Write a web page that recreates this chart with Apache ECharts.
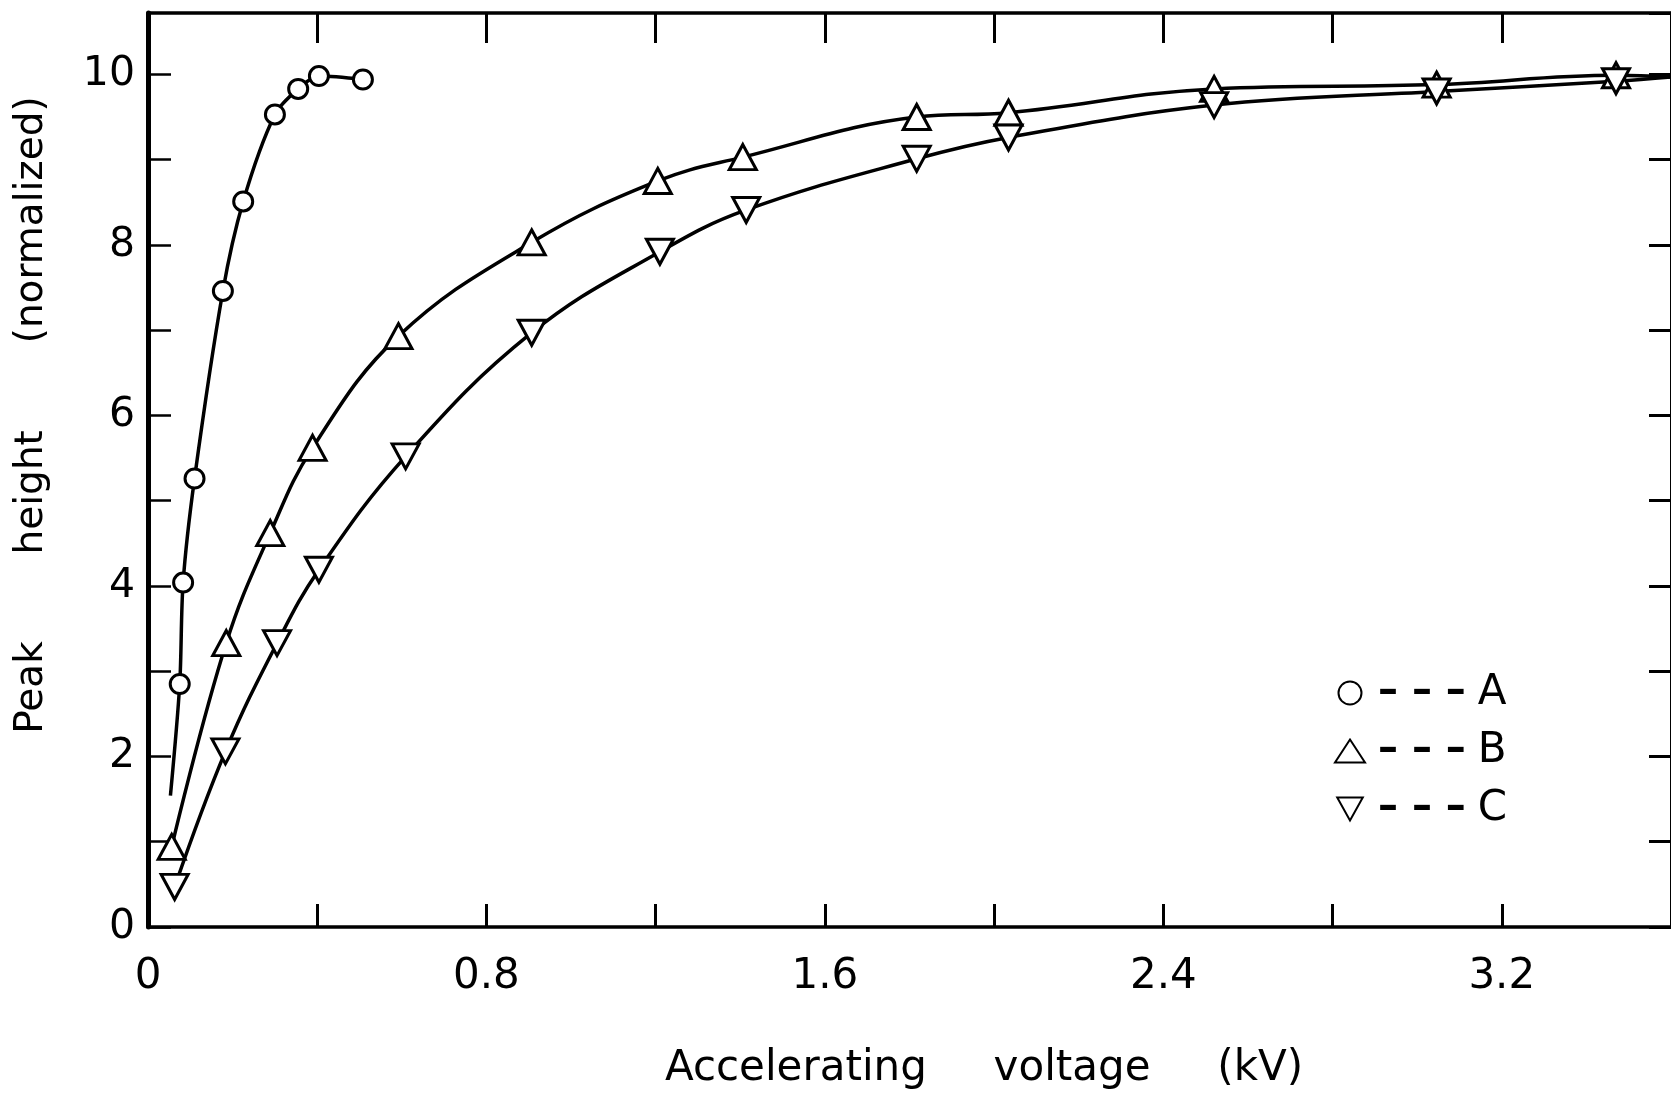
<!DOCTYPE html>
<html>
<head>
<meta charset="utf-8">
<script src="https://cdn.jsdelivr.net/npm/echarts@6/dist/echarts.min.js"></script>
<style>
  html, body { margin: 0; padding: 0; background: #fff; }
  #chart { width: 1671px; height: 1096px; }
</style>
</head>
<body>
<div id="chart"></div>
<script>
// ---- data ----
const seriesNames = ['A', 'B', 'C'];

// Series A (circles); the fitted curve starts below the first marker
const curveStartA = [0.053, 1.54];
const xA = [0.075, 0.083, 0.110, 0.177, 0.225, 0.300, 0.355, 0.404, 0.508];
const yA = [2.85, 4.04, 5.26, 7.46, 8.51, 9.53, 9.83, 9.98, 9.94];

// Series B (up triangles)
const xB = [0.056, 0.185, 0.289, 0.389, 0.592, 0.907, 1.205, 1.406, 1.817, 2.034, 2.52, 3.046, 3.47];
const yB = [0.94, 3.33, 4.62, 5.62, 6.93, 8.03, 8.75, 9.03, 9.50, 9.55, 9.83, 9.88, 9.99];

// Series C (down triangles)
const xC = [0.063, 0.183, 0.305, 0.404, 0.609, 0.907, 1.21, 1.414, 1.817, 2.034, 2.52, 3.046, 3.47];
const yC = [0.47, 2.06, 3.33, 4.19, 5.52, 6.97, 7.92, 8.41, 9.01, 9.26, 9.64, 9.80, 9.92];

// fitted curves B and C run on to the right edge of the frame
const curveEndBC = [3.6, 9.97];

// axes
const xMin = 0, xMax = 3.6, xStep = 0.4;
const yMin = 0, yMax = 10.72, yStep = 1;
const xLabelValues = [0, 0.8, 1.6, 2.4, 3.2];
const yLabelValues = [0, 2, 4, 6, 8, 10];

const xTitle = 'Accelerating     voltage     (kV)';
const yTitle = 'Peak       height       (normalized)';

// ---- chart ----
const FONT = "'DejaVu Sans', 'Liberation Sans', sans-serif";
const downTri = 'path://M0,0 L20,0 L10,18 Z';

function pts(xs, ys) { return xs.map((x, i) => [x, ys[i]]); }

const dataA = [{ value: curveStartA, symbol: 'none' }].concat(pts(xA, yA));
const dataB = pts(xB, yB).concat([{ value: curveEndBC, symbol: 'none' }]);
const dataC = pts(xC, yC).concat([{ value: curveEndBC, symbol: 'none' }]);

function near(v, list) { return list.some(t => Math.abs(v - t) < 1e-6); }

const markerStyle = { color: '#ffffff', borderColor: '#000000', borderWidth: 3 };
const lineStyle = { color: '#000000', width: 3.5 };

const chart = echarts.init(document.getElementById('chart'), null, { renderer: 'canvas' });

const option = {
  backgroundColor: '#ffffff',
  animation: false,
  grid: { left: 148, right: -10, top: 13, bottom: 169, containLabel: false },
  xAxis: [
    {
      type: 'value', position: 'bottom', min: xMin, max: xMax, interval: xStep,
      axisLine: { show: true, lineStyle: { color: '#000', width: 3.5 } },
      axisTick: { show: true, inside: true, length: 23, lineStyle: { color: '#000', width: 3 } },
      splitLine: { show: false },
      axisLabel: {
        show: true, margin: 29, color: '#000', fontFamily: FONT, fontSize: 42,
        showMaxLabel: false,
        formatter: v => near(v, xLabelValues) ? (v === 0 ? '0' : v.toFixed(1)) : ''
      }
    },
    {
      type: 'value', position: 'top', min: xMin, max: xMax, interval: xStep,
      axisLine: { show: true, onZero: false, lineStyle: { color: '#000', width: 3.5 } },
      axisTick: { show: true, inside: true, length: 30, lineStyle: { color: '#000', width: 3 } },
      splitLine: { show: false },
      axisLabel: { show: false }
    }
  ],
  yAxis: [
    {
      type: 'value', position: 'left', min: yMin, max: yMax, interval: yStep,
      axisLine: { show: true, onZero: false, lineStyle: { color: '#000', width: 5 } },
      axisTick: { show: true, inside: true, length: 23, lineStyle: { color: '#000', width: 2.5 } },
      splitLine: { show: false },
      axisLabel: {
        show: true, margin: 13, color: '#000', fontFamily: FONT, fontSize: 41,
        showMaxLabel: false,
        formatter: v => near(v, yLabelValues) ? String(Math.round(v)) : ''
      }
    },
    {
      type: 'value', position: 'right', min: yMin, max: yMax, interval: yStep,
      axisLine: { show: true, onZero: false, lineStyle: { color: '#000', width: 3 } },
      axisTick: { show: true, inside: true, length: 22, lineStyle: { color: '#000', width: 3 } },
      splitLine: { show: false },
      axisLabel: { show: false }
    }
  ],
  legend: {
    orient: 'vertical', left: 1334, top: 664, padding: 0, itemGap: 0,
    itemWidth: 30, itemHeight: 23,
    data: [
      { name: seriesNames[0], icon: 'circle' },
      { name: seriesNames[1], icon: 'triangle' },
      { name: seriesNames[2], icon: downTri }
    ],
    formatter: n => '{d|– – –} {n|' + n + '}',
    textStyle: {
      color: '#000', fontFamily: FONT, lineHeight: 58,
      rich: {
        d: { fontSize: 40, fontFamily: FONT, fontWeight: 'bold', color: '#000', padding: [0, 8, 0, 8] },
        n: { fontSize: 42, fontFamily: FONT, color: '#000' }
      }
    }
  },
  series: [
    {
      name: seriesNames[0], type: 'line', xAxisIndex: 0, yAxisIndex: 0,
      data: dataA, smooth: 0.3,
      symbol: 'circle', symbolSize: 19, showAllSymbol: true,
      lineStyle: lineStyle, itemStyle: markerStyle, z: 3
    },
    {
      name: seriesNames[1], type: 'line', xAxisIndex: 0, yAxisIndex: 0,
      data: dataB, smooth: 0.4,
      symbol: 'triangle', symbolSize: [27, 25], showAllSymbol: true,
      lineStyle: lineStyle, itemStyle: markerStyle, z: 3
    },
    {
      name: seriesNames[2], type: 'line', xAxisIndex: 0, yAxisIndex: 0,
      data: dataC, smooth: 0.4,
      symbol: downTri, symbolSize: [27, 25], showAllSymbol: true,
      lineStyle: lineStyle, itemStyle: markerStyle, z: 3
    }
  ],
  graphic: [
    {
      type: 'text', x: 984, y: 1069,
      style: {
        text: xTitle, fill: '#000', font: '42px ' + FONT,
        textAlign: 'center', textVerticalAlign: 'middle'
      }
    },
    {
      type: 'text', x: 32, y: 415, rotation: Math.PI / 2,
      style: {
        text: yTitle, fill: '#000', font: '39px ' + FONT,
        textAlign: 'center', textVerticalAlign: 'middle'
      }
    }
  ]
};

chart.setOption(option);
</script>
</body>
</html>
